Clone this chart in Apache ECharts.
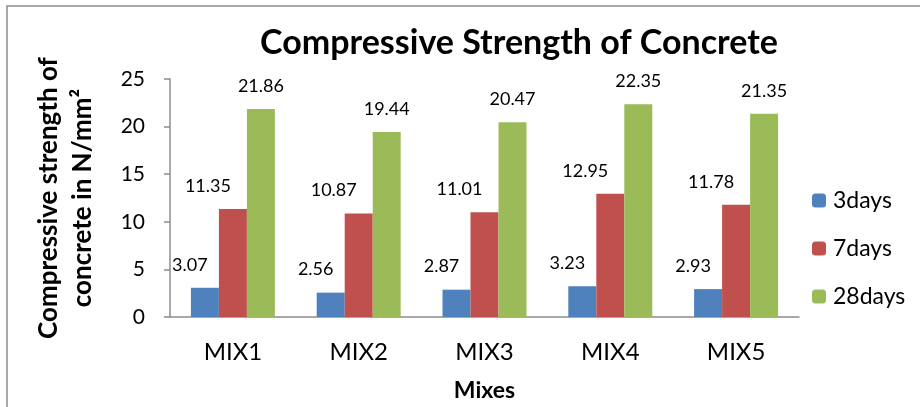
<!DOCTYPE html>
<html>
<head>
<meta charset="utf-8">
<script src="https://cdn.jsdelivr.net/npm/echarts@6/dist/echarts.min.js"></script>
<style>
  html, body { margin: 0; padding: 0; background: #fff; }
  #chart { width: 920px; height: 407px; }
</style>
</head>
<body>
<div id="chart"></div>
<script>
// data
var mixes = ['MIX1', 'MIX2', 'MIX3', 'MIX4', 'MIX5'];
var days3 = [3.07, 2.56, 2.87, 3.23, 2.93];
var days7 = [11.35, 10.87, 11.01, 12.95, 11.78];
var days28 = [21.86, 19.44, 20.47, 22.35, 21.35];
var yTicks = [0, 5, 10, 15, 20, 25];

var font = 'Lato';
var colors = ['#4F81BD', '#C0504D', '#9BBB59'];

function makeSeries(name, data, offsetX) {
    return {
        name: name,
        type: 'bar',
        data: data,
        barWidth: 28,
        barGap: '0%',
        label: {
            show: true,
            position: 'top',
            distance: 14,
            offset: [offsetX, 0],
            fontFamily: font,
            fontSize: 18,
            color: '#000'
        }
    };
}

var chart = echarts.init(document.getElementById('chart'));
var option = {
    color: colors,
    animation: false,
    textStyle: { fontFamily: font },
    graphic: [{
        type: 'rect',
        shape: { x: 7, y: 6, width: 1000, height: 600 },
        style: { fill: 'none', stroke: '#8c8c8c', lineWidth: 1.5 },
        silent: true,
        z: -1
    }],
    title: {
        text: 'Compressive Strength of Concrete',
        left: 514,
        textAlign: 'center',
        top: 21,
        textStyle: { fontFamily: font, fontSize: 34, fontWeight: 'bold', color: '#000' }
    },
    legend: {
        orient: 'vertical',
        left: 807,
        top: 184,
        itemWidth: 14,
        itemHeight: 14,
        itemGap: 25,
        data: ['3days', '7days', '28days'],
        textStyle: { fontFamily: font, fontSize: 23, lineHeight: 23, color: '#000', padding: [0, 0, 0, 2] }
    },
    grid: { left: 170, right: 121, top: 79, bottom: 89 },
    xAxis: {
        type: 'category',
        data: mixes,
        name: 'Mixes',
        nameLocation: 'middle',
        nameGap: 62,
        nameTextStyle: { fontFamily: font, fontSize: 23, fontWeight: 'bold', color: '#000' },
        axisLine: { lineStyle: { color: '#8c8c8c', width: 1.5 } },
        axisTick: { show: false },
        axisLabel: { fontFamily: font, fontSize: 24, color: '#000', margin: 23 }
    },
    yAxis: {
        type: 'value',
        min: yTicks[0],
        max: yTicks[yTicks.length - 1],
        interval: 5,
        name: 'Compressive strength of\nconcrete in N/mm\u00B2',
        nameLocation: 'middle',
        nameRotate: 90,
        nameGap: 70,
        nameTextStyle: { fontFamily: font, fontSize: 26, fontWeight: 'bold', color: '#000', lineHeight: 34, align: 'center' },
        axisLine: { show: true, lineStyle: { color: '#8c8c8c', width: 1.5 } },
        axisTick: { show: true, length: 6, lineStyle: { color: '#8c8c8c', width: 1.5 } },
        splitLine: { show: false },
        axisLabel: { fontFamily: font, fontSize: 21, color: '#000', margin: 25 }
    },
    series: [
        makeSeries('3days', days3, -15),
        makeSeries('7days', days7, -25),
        makeSeries('28days', days28, 0)
    ]
};
chart.setOption(option);
</script>
</body>
</html>
